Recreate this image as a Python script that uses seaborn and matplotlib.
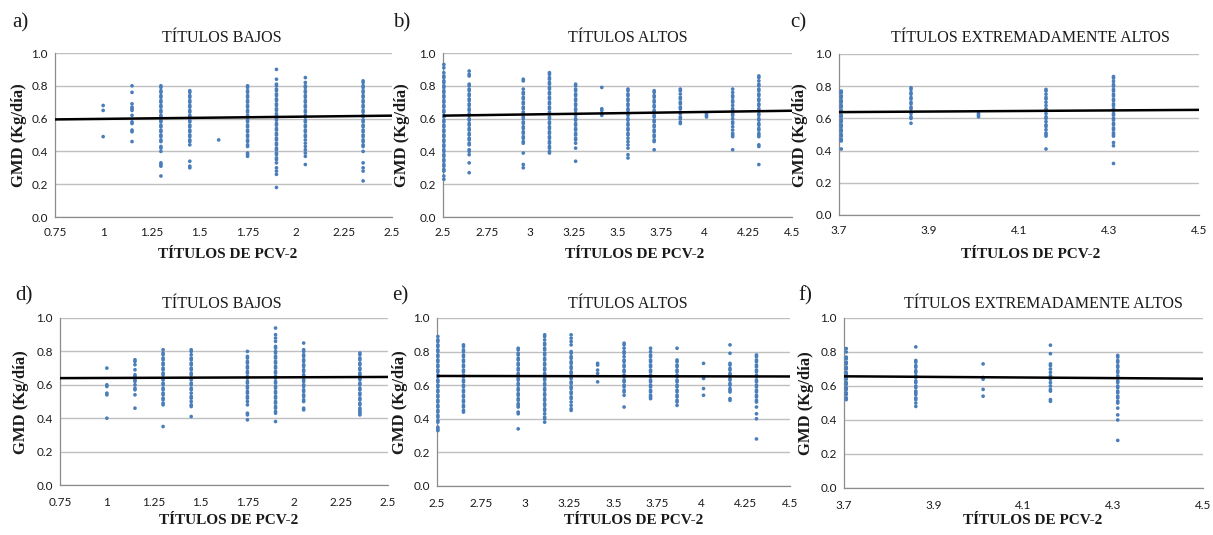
import matplotlib
matplotlib.use("Agg")
import matplotlib.pyplot as plt
import numpy as np
import pandas as pd
import seaborn as sns

# ---------------- data ----------------
A_X = [1.00, 1.15, 1.30, 1.45, 1.60, 1.75, 1.90, 2.05, 2.35]
A_GMD = [
    [0.68, 0.65, 0.49],
    [0.80, 0.76, 0.69, 0.67, 0.66, 0.65, 0.62, 0.58, 0.57, 0.53, 0.52, 0.46],
    [0.80, 0.79, 0.77, 0.76, 0.74, 0.73, 0.71, 0.70, 0.68, 0.67, 0.65, 0.64, 0.62, 0.61, 0.59, 0.58,
     0.56, 0.55, 0.53, 0.52, 0.50, 0.49, 0.47, 0.46, 0.43, 0.42, 0.40, 0.33, 0.32, 0.31, 0.25],
    [0.77, 0.76, 0.74, 0.73, 0.71, 0.70, 0.68, 0.67, 0.65, 0.64, 0.62, 0.61, 0.59, 0.58, 0.56, 0.55,
     0.53, 0.52, 0.50, 0.49, 0.47, 0.46, 0.44, 0.34, 0.31, 0.30],
    [0.47],
    [0.80, 0.79, 0.77, 0.76, 0.74, 0.73, 0.71, 0.70, 0.68, 0.67, 0.65, 0.64, 0.62, 0.61, 0.59, 0.58,
     0.56, 0.55, 0.53, 0.52, 0.50, 0.49, 0.47, 0.46, 0.44, 0.43, 0.39, 0.38, 0.37],
    [0.90, 0.84, 0.81, 0.80, 0.78, 0.77, 0.75, 0.74, 0.72, 0.71, 0.69, 0.68, 0.66, 0.65, 0.63, 0.62,
     0.60, 0.59, 0.57, 0.56, 0.54, 0.53, 0.51, 0.50, 0.48, 0.47, 0.45, 0.44, 0.42, 0.41, 0.39, 0.38,
     0.36, 0.35, 0.33, 0.30, 0.28, 0.26, 0.18],
    [0.85, 0.82, 0.80, 0.79, 0.77, 0.76, 0.74, 0.73, 0.71, 0.70, 0.68, 0.67, 0.65, 0.64, 0.62, 0.61,
     0.59, 0.58, 0.56, 0.55, 0.53, 0.52, 0.50, 0.49, 0.47, 0.45, 0.43, 0.41, 0.39, 0.37, 0.32],
    [0.83, 0.82, 0.80, 0.79, 0.77, 0.76, 0.74, 0.73, 0.71, 0.70, 0.68, 0.67, 0.65, 0.64, 0.62, 0.61,
     0.59, 0.58, 0.56, 0.55, 0.53, 0.52, 0.50, 0.49, 0.47, 0.46, 0.44, 0.43, 0.40, 0.33, 0.30, 0.28, 0.22],
]
A_TREND = [0.595, 0.618]

B_X = [2.505, 2.65, 2.96, 3.11, 3.26, 3.41, 3.56, 3.71, 3.86, 4.01, 4.16, 4.31]
B_GMD = [
    [0.93, 0.91, 0.88, 0.86, 0.85, 0.83, 0.82, 0.80, 0.79, 0.77, 0.76, 0.74, 0.73, 0.71, 0.70, 0.68,
     0.67, 0.65, 0.64, 0.62, 0.61, 0.59, 0.58, 0.56, 0.55, 0.53, 0.52, 0.50, 0.49, 0.47, 0.46, 0.44,
     0.43, 0.41, 0.40, 0.38, 0.37, 0.35, 0.34, 0.32, 0.31, 0.29, 0.28, 0.25, 0.23],
    [0.89, 0.87, 0.86, 0.81, 0.80, 0.78, 0.77, 0.75, 0.74, 0.72, 0.71, 0.69, 0.68, 0.66, 0.65, 0.63,
     0.62, 0.60, 0.59, 0.57, 0.56, 0.54, 0.53, 0.51, 0.50, 0.48, 0.47, 0.45, 0.44, 0.41, 0.40, 0.38,
     0.33, 0.27],
    [0.84, 0.83, 0.78, 0.76, 0.75, 0.73, 0.72, 0.70, 0.69, 0.67, 0.66, 0.64, 0.63, 0.61, 0.60, 0.58,
     0.57, 0.55, 0.54, 0.52, 0.51, 0.49, 0.48, 0.46, 0.45, 0.39, 0.32, 0.30],
    [0.88, 0.87, 0.85, 0.84, 0.82, 0.81, 0.79, 0.78, 0.76, 0.75, 0.73, 0.72, 0.70, 0.69, 0.67, 0.66,
     0.64, 0.63, 0.61, 0.60, 0.58, 0.57, 0.55, 0.54, 0.52, 0.51, 0.49, 0.48, 0.46, 0.45, 0.43, 0.42,
     0.40, 0.39],
    [0.81, 0.80, 0.78, 0.77, 0.75, 0.74, 0.72, 0.71, 0.69, 0.68, 0.66, 0.65, 0.63, 0.62, 0.60, 0.59,
     0.57, 0.56, 0.54, 0.53, 0.51, 0.50, 0.48, 0.47, 0.45, 0.42, 0.34],
    [0.79, 0.66, 0.65, 0.63, 0.62],
    [0.78, 0.77, 0.75, 0.74, 0.72, 0.71, 0.69, 0.68, 0.66, 0.65, 0.63, 0.62, 0.60, 0.59, 0.57, 0.56,
     0.54, 0.53, 0.51, 0.50, 0.48, 0.46, 0.44, 0.42, 0.38, 0.36],
    [0.77, 0.76, 0.74, 0.73, 0.71, 0.70, 0.68, 0.67, 0.65, 0.64, 0.62, 0.61, 0.59, 0.58, 0.56, 0.55,
     0.53, 0.52, 0.50, 0.49, 0.47, 0.46, 0.41],
    [0.78, 0.77, 0.75, 0.73, 0.72, 0.70, 0.69, 0.67, 0.66, 0.64, 0.63, 0.61, 0.60, 0.58, 0.57],
    [0.63, 0.62, 0.61],
    [0.78, 0.76, 0.74, 0.73, 0.71, 0.70, 0.68, 0.66, 0.65, 0.63, 0.62, 0.60, 0.58, 0.57, 0.55, 0.53,
     0.51, 0.50, 0.49, 0.41],
    [0.86, 0.85, 0.83, 0.81, 0.80, 0.78, 0.77, 0.75, 0.74, 0.72, 0.71, 0.69, 0.68, 0.66, 0.65, 0.63,
     0.62, 0.60, 0.59, 0.57, 0.56, 0.54, 0.53, 0.51, 0.50, 0.49, 0.44, 0.43, 0.32],
]
B_TREND = [0.618, 0.648]

C_X = [3.705, 3.86, 4.01, 4.16, 4.31]
C_GMD = [
    [0.77, 0.76, 0.74, 0.73, 0.71, 0.70, 0.68, 0.67, 0.65, 0.64, 0.62, 0.61, 0.59, 0.58, 0.56, 0.55,
     0.53, 0.52, 0.50, 0.49, 0.47, 0.46, 0.41],
    [0.79, 0.78, 0.76, 0.75, 0.73, 0.72, 0.70, 0.69, 0.67, 0.66, 0.64, 0.63, 0.61, 0.60, 0.57],
    [0.63, 0.62, 0.61],
    [0.78, 0.77, 0.75, 0.73, 0.72, 0.70, 0.68, 0.66, 0.65, 0.63, 0.61, 0.60, 0.58, 0.56, 0.55, 0.53,
     0.51, 0.50, 0.49, 0.41],
    [0.86, 0.85, 0.83, 0.81, 0.80, 0.78, 0.77, 0.75, 0.74, 0.72, 0.71, 0.69, 0.68, 0.66, 0.65, 0.63,
     0.62, 0.60, 0.59, 0.57, 0.56, 0.54, 0.53, 0.51, 0.50, 0.49, 0.45, 0.43, 0.32],
]
C_TREND = [0.639, 0.653]

D_X = [1.00, 1.15, 1.30, 1.45, 1.75, 1.90, 2.05, 2.35]
D_GMD = [
    [0.70, 0.60, 0.59, 0.55, 0.54, 0.40],
    [0.75, 0.74, 0.72, 0.69, 0.66, 0.65, 0.63, 0.62, 0.60, 0.58, 0.57, 0.54, 0.46],
    [0.81, 0.79, 0.78, 0.76, 0.75, 0.73, 0.72, 0.70, 0.69, 0.67, 0.66, 0.64, 0.63, 0.61, 0.60, 0.58,
     0.57, 0.55, 0.54, 0.52, 0.51, 0.49, 0.48, 0.35],
    [0.81, 0.80, 0.78, 0.76, 0.75, 0.73, 0.72, 0.70, 0.69, 0.67, 0.66, 0.64, 0.63, 0.61, 0.60, 0.58,
     0.57, 0.55, 0.53, 0.52, 0.50, 0.48, 0.47, 0.41],
    [0.80, 0.77, 0.76, 0.74, 0.73, 0.71, 0.70, 0.68, 0.67, 0.65, 0.64, 0.62, 0.61, 0.59, 0.58, 0.56,
     0.55, 0.53, 0.52, 0.50, 0.48, 0.43, 0.42, 0.39],
    [0.94, 0.90, 0.88, 0.86, 0.83, 0.82, 0.80, 0.79, 0.77, 0.76, 0.74, 0.73, 0.71, 0.70, 0.68, 0.67,
     0.65, 0.64, 0.62, 0.61, 0.59, 0.58, 0.56, 0.55, 0.53, 0.52, 0.50, 0.49, 0.47, 0.46, 0.44, 0.43, 0.38],
    [0.85, 0.81, 0.80, 0.78, 0.77, 0.75, 0.74, 0.72, 0.71, 0.69, 0.68, 0.66, 0.65, 0.63, 0.62, 0.60,
     0.59, 0.57, 0.56, 0.54, 0.53, 0.51, 0.50, 0.46, 0.45],
    [0.79, 0.78, 0.76, 0.75, 0.73, 0.72, 0.70, 0.69, 0.67, 0.66, 0.64, 0.63, 0.61, 0.60, 0.58, 0.57,
     0.55, 0.54, 0.52, 0.51, 0.49, 0.48, 0.46, 0.45, 0.44, 0.43, 0.42],
]
D_TREND = [0.640, 0.647]

E_X = [2.505, 2.65, 2.96, 3.11, 3.26, 3.41, 3.56, 3.71, 3.86, 4.01, 4.16, 4.31]
E_GMD = [
    [0.89, 0.87, 0.86, 0.84, 0.83, 0.81, 0.80, 0.78, 0.77, 0.75, 0.74, 0.72, 0.71, 0.69, 0.68, 0.66,
     0.65, 0.63, 0.62, 0.60, 0.59, 0.57, 0.56, 0.54, 0.53, 0.51, 0.50, 0.48, 0.47, 0.45, 0.44, 0.42,
     0.41, 0.39, 0.38, 0.35, 0.34, 0.33],
    [0.84, 0.83, 0.81, 0.80, 0.78, 0.77, 0.75, 0.74, 0.72, 0.71, 0.69, 0.68, 0.66, 0.65, 0.63, 0.62,
     0.60, 0.59, 0.57, 0.56, 0.54, 0.53, 0.51, 0.50, 0.48, 0.47, 0.45, 0.44],
    [0.82, 0.81, 0.79, 0.78, 0.76, 0.75, 0.73, 0.72, 0.70, 0.69, 0.67, 0.66, 0.64, 0.63, 0.61, 0.60,
     0.58, 0.57, 0.55, 0.54, 0.52, 0.51, 0.49, 0.48, 0.47, 0.44, 0.43, 0.34],
    [0.90, 0.89, 0.87, 0.85, 0.84, 0.82, 0.81, 0.79, 0.78, 0.76, 0.75, 0.73, 0.72, 0.70, 0.69, 0.67,
     0.66, 0.64, 0.63, 0.61, 0.60, 0.58, 0.57, 0.55, 0.54, 0.52, 0.51, 0.49, 0.48, 0.46, 0.45, 0.43,
     0.41, 0.40, 0.38],
    [0.90, 0.88, 0.86, 0.84, 0.80, 0.79, 0.77, 0.76, 0.74, 0.73, 0.71, 0.70, 0.68, 0.67, 0.65, 0.64,
     0.62, 0.61, 0.59, 0.58, 0.56, 0.55, 0.53, 0.52, 0.50, 0.48, 0.46, 0.45],
    [0.73, 0.72, 0.69, 0.67, 0.62],
    [0.85, 0.84, 0.82, 0.80, 0.79, 0.77, 0.75, 0.74, 0.72, 0.71, 0.69, 0.68, 0.66, 0.65, 0.63, 0.62,
     0.60, 0.59, 0.57, 0.56, 0.54, 0.47],
    [0.82, 0.80, 0.78, 0.77, 0.75, 0.74, 0.72, 0.71, 0.69, 0.68, 0.66, 0.65, 0.63, 0.62, 0.60, 0.59,
     0.57, 0.56, 0.54, 0.53, 0.52],
    [0.82, 0.75, 0.74, 0.72, 0.71, 0.69, 0.68, 0.66, 0.65, 0.63, 0.62, 0.60, 0.59, 0.57, 0.56, 0.54,
     0.53, 0.51, 0.50, 0.48],
    [0.73, 0.65, 0.64, 0.58, 0.54],
    [0.84, 0.79, 0.73, 0.72, 0.70, 0.69, 0.67, 0.66, 0.64, 0.63, 0.61, 0.60, 0.58, 0.57, 0.56, 0.52, 0.51],
    [0.78, 0.77, 0.75, 0.74, 0.72, 0.71, 0.69, 0.68, 0.66, 0.65, 0.63, 0.62, 0.60, 0.59, 0.57, 0.56,
     0.54, 0.53, 0.51, 0.50, 0.47, 0.43, 0.40, 0.28],
]
E_TREND = [0.655, 0.652]

F_X = [3.705, 3.86, 4.01, 4.16, 4.31]
F_GMD = [
    [0.82, 0.80, 0.77, 0.76, 0.74, 0.73, 0.71, 0.70, 0.68, 0.67, 0.65, 0.64, 0.62, 0.61, 0.59, 0.58,
     0.56, 0.55, 0.53, 0.52],
    [0.83, 0.75, 0.74, 0.72, 0.71, 0.69, 0.68, 0.66, 0.65, 0.63, 0.62, 0.60, 0.59, 0.57, 0.56, 0.55,
     0.53, 0.52, 0.50, 0.48],
    [0.73, 0.65, 0.64, 0.58, 0.54],
    [0.84, 0.79, 0.73, 0.72, 0.70, 0.68, 0.66, 0.64, 0.62, 0.60, 0.58, 0.57, 0.52, 0.51],
    [0.78, 0.77, 0.75, 0.74, 0.72, 0.71, 0.69, 0.68, 0.66, 0.65, 0.63, 0.62, 0.60, 0.59, 0.57, 0.56,
     0.54, 0.53, 0.51, 0.50, 0.47, 0.43, 0.40, 0.28],
]
F_TREND = [0.657, 0.643]

XT_LOW = [0.75, 1, 1.25, 1.5, 1.75, 2, 2.25, 2.5]
XT_HIGH = [2.5, 2.75, 3, 3.25, 3.5, 3.75, 4, 4.25, 4.5]
XT_EXT = [3.7, 3.9, 4.1, 4.3, 4.5]
Y_TICKS = [0.0, 0.2, 0.4, 0.6, 0.8, 1.0]

TITLES = ["TÍTULOS BAJOS", "TÍTULOS ALTOS", "TÍTULOS EXTREMADAMENTE ALTOS"]
LETTERS = ["a)", "b)", "c)", "d)", "e)", "f)"]
XLABEL = "TÍTULOS DE PCV-2"
YLABEL = "GMD (Kg/día)"

# ---------------- style ----------------
sns.set_theme(style="white")
plt.rcParams["font.family"] = ["Lato", "DejaVu Sans"]
SERIF = ["Liberation Serif", "DejaVu Serif"]
BLUE = "#4A7EBB"
GRID = "#BFBFBF"
AXC = "#8C8C8C"
TXT = "#1A1A1A"

W, H = 1213, 535
fig = plt.figure(figsize=(W / 100, H / 100), dpi=100)
fig.patch.set_facecolor("white")


def rect(l, t, r, b):
    return [l / W, 1 - b / H, (r - l) / W, (b - t) / H]


def ftext(x, y, s, **kw):
    fig.text(x / W, 1 - y / H, s, **kw)


panels = [
    (A_X, A_GMD, A_TREND, (0.75, 2.5), XT_LOW, rect(55, 53, 392, 217), 0),
    (B_X, B_GMD, B_TREND, (2.5, 4.5), XT_HIGH, rect(443, 53, 792, 217), 0),
    (C_X, C_GMD, C_TREND, (3.7, 4.5), XT_EXT, rect(839, 54, 1199, 215), 0),
    (D_X, D_GMD, D_TREND, (0.75, 2.5), XT_LOW, rect(60, 318, 388, 485), 1),
    (E_X, E_GMD, E_TREND, (2.5, 4.5), XT_HIGH, rect(437, 318, 790, 486), 1),
    (F_X, F_GMD, F_TREND, (3.7, 4.5), XT_EXT, rect(844, 318, 1203, 488), 1),
]

for xs, cols, trend, xlim, xt, r, row in panels:
    ax = fig.add_axes(r)
    df = pd.DataFrame({
        "titer": [x for x, col in zip(xs, cols) for _ in col],
        "gmd": [v for col in cols for v in col],
    })
    sns.scatterplot(data=df, x="titer", y="gmd", ax=ax, s=7, color=BLUE,
                    linewidth=0, edgecolor="none", clip_on=False, zorder=3)
    sns.lineplot(x=list(xlim), y=trend, ax=ax, color="black", linewidth=1.8, zorder=4)
    ax.set_xlim(*xlim)
    ax.set_ylim(0, 1)
    ax.set_xticks(xt)
    ax.set_xticklabels([f"{v:g}" for v in xt])
    ax.set_yticks(Y_TICKS)
    ax.set_yticklabels([f"{v:.1f}" for v in Y_TICKS])
    ax.set_xlabel("")
    ax.set_ylabel("")
    ax.set_axisbelow(True)
    ax.grid(axis="y", color=GRID, linewidth=1.0)
    ax.grid(axis="x", visible=False)
    for s in ["top", "right"]:
        ax.spines[s].set_visible(False)
    for s in ["left", "bottom"]:
        ax.spines[s].set_color(AXC)
        ax.spines[s].set_linewidth(0.9)
    ax.tick_params(axis="x", direction="out", length=3, width=0.8, color=AXC,
                   labelsize=8.5, labelcolor=TXT, pad=4.5 if row == 0 else 5.5)
    ax.tick_params(axis="y", direction="out", length=3, width=0.8, color=AXC,
                   labelsize=8.5, labelcolor=TXT, pad=2)

# panel letters
for (x, y), s in zip([(12, 23), (393, 23), (790, 23), (15, 296), (392, 296), (798, 296)], LETTERS):
    ftext(x, y, s, family=SERIF, fontsize=15, color=TXT, ha="left", va="center")

# titles
for (x, y), s in zip([(222, 38), (628, 38), (1030, 38), (222, 304), (628, 304), (1043, 304)],
                     TITLES + TITLES):
    ftext(x, y, s, family=SERIF, fontsize=11.5, color=TXT, ha="center", va="center")

# x labels
for (x, y) in [(228, 255), (635, 255), (1031, 255), (229, 521), (634, 521), (1033, 521)]:
    ftext(x, y, XLABEL, family=SERIF, fontsize=11, fontweight="bold", color=TXT,
          ha="center", va="center")

# y labels
for (x, y) in [(19, 135), (402, 135), (800, 135), (21, 402), (400, 402), (806, 403)]:
    ftext(x, y, YLABEL, family=SERIF, fontsize=12, fontweight="bold", color=TXT,
          ha="center", va="center", rotation=90)

fig.savefig("out.png", dpi=100, facecolor="white")
